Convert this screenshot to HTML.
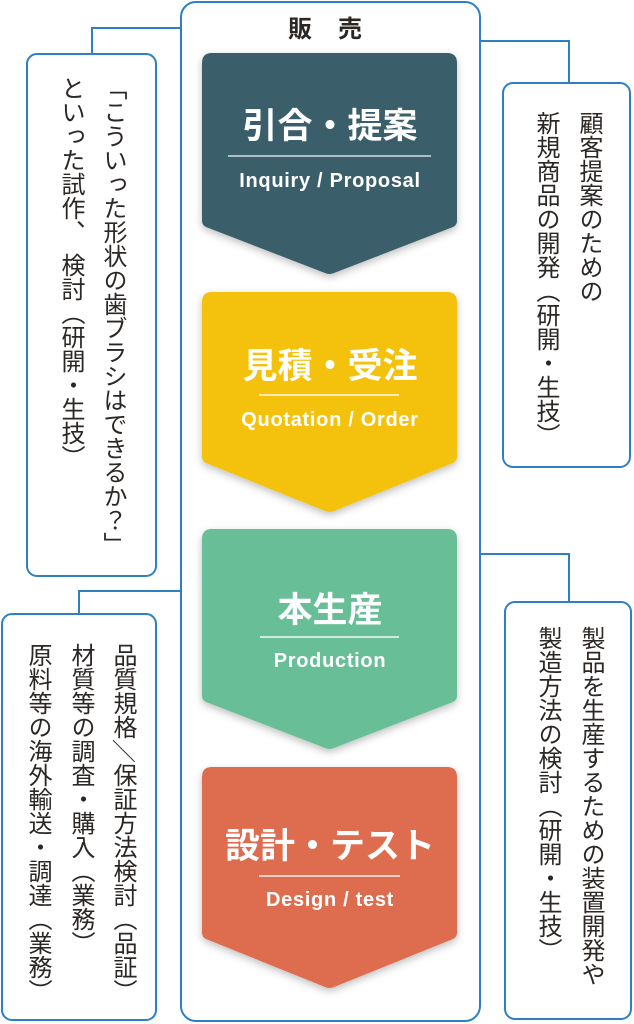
<!DOCTYPE html>
<html lang="ja">
<head>
<meta charset="utf-8">
<style>
  html,body{margin:0;padding:0;background:#fff;}
  body{width:634px;height:1024px;position:relative;overflow:hidden;}
  svg{position:absolute;left:0;top:0;}
  .v{position:absolute;writing-mode:vertical-rl;font-family:"Liberation Sans","Noto Sans CJK JP",sans-serif;font-size:24px;line-height:24px;width:24px;color:#2b2725;white-space:nowrap;}
  .t{font-family:"Liberation Sans","Noto Sans CJK JP",sans-serif;font-weight:700;fill:#fff;}
  .s{font-family:"Liberation Sans",sans-serif;font-weight:700;fill:#fff;font-size:20px;letter-spacing:0.7px;}
  .sw{text-orientation:sideways;}
</style>
</head>
<body>
<svg width="634" height="1024" viewBox="0 0 634 1024" xmlns="http://www.w3.org/2000/svg">
  <defs>
    <filter id="sh" x="-20%" y="-20%" width="140%" height="140%">
      <feDropShadow dx="0" dy="3" stdDeviation="4" flood-color="#000" flood-opacity="0.25"/>
    </filter>
  </defs>
  <g fill="none" stroke="#2f7fc3" stroke-width="2">
    <!-- main box -->
    <rect x="181" y="2" width="299" height="1019" rx="15"/>
    <!-- side boxes -->
    <rect x="27" y="54" width="129" height="522" rx="10"/>
    <rect x="503" y="83" width="127" height="384" rx="10"/>
    <rect x="2" y="614" width="154" height="406" rx="10"/>
    <rect x="505" y="602" width="126" height="417" rx="10"/>
    <!-- connectors -->
    <polyline points="181,28 92,28 92,54"/>
    <polyline points="480,41 569,41 569,83"/>
    <polyline points="181,591 79,591 79,614"/>
    <polyline points="480,554 569,554 569,602"/>
  </g>

  <!-- header -->
  <text x="300" y="37" text-anchor="middle" font-family="'Liberation Sans','Noto Sans CJK JP',sans-serif" font-size="24" font-weight="700" fill="#2b2725">販</text>
  <text x="350" y="37" text-anchor="middle" font-family="'Liberation Sans','Noto Sans CJK JP',sans-serif" font-size="24" font-weight="700" fill="#2b2725">売</text>

  <!-- chevrons -->
  <g filter="url(#sh)">
    <path fill="#3b5e6b" d="M202,63 Q202,53 212,53 H447 Q457,53 457,63 V221 Q457,225 453,227 L334,273 Q329.5,275 325,273 L206,227 Q202,225 202,221 Z"/>
    <path fill="#f4c210" d="M202,302 Q202,292 212,292 H447 Q457,292 457,302 V457 Q457,461 453,463 L334,511 Q329.5,513 325,511 L206,463 Q202,461 202,457 Z"/>
    <path fill="#67bf97" d="M202,539 Q202,529 212,529 H447 Q457,529 457,539 V696 Q457,700 453,702 L334,748 Q329.5,750 325,748 L206,702 Q202,700 202,696 Z"/>
    <path fill="#de6d4f" d="M202,777 Q202,767 212,767 H447 Q457,767 457,777 V933 Q457,937 453,939 L334,987 Q329.5,989 325,987 L206,939 Q202,937 202,933 Z"/>
  </g>

  <!-- chevron 1 -->
  <text class="t" x="330" y="138" text-anchor="middle" font-size="35">引合・提案</text>
  <line x1="228" y1="156" x2="431" y2="156" stroke="#fff" stroke-opacity="0.8" stroke-width="1.6"/>
  <text class="s" x="330" y="187" text-anchor="middle">Inquiry / Proposal</text>

  <!-- chevron 2 -->
  <text class="t" x="330" y="378" text-anchor="middle" font-size="35">見積・受注</text>
  <line x1="259" y1="395" x2="399" y2="395" stroke="#fff" stroke-opacity="0.9" stroke-width="1.6"/>
  <text class="s" x="330" y="426" text-anchor="middle">Quotation / Order</text>

  <!-- chevron 3 -->
  <text class="t" x="330" y="622" text-anchor="middle" font-size="35">本生産</text>
  <line x1="260" y1="637" x2="399" y2="637" stroke="#fff" stroke-opacity="0.9" stroke-width="1.6"/>
  <text class="s" x="330" y="667" text-anchor="middle">Production</text>

  <!-- chevron 4 -->
  <text class="t" x="330" y="858" text-anchor="middle" font-size="35">設計・テスト</text>
  <line x1="259" y1="876" x2="400" y2="876" stroke="#fff" stroke-opacity="0.9" stroke-width="1.6"/>
  <text class="s" x="330" y="906" text-anchor="middle">Design / test</text>
</svg>

<!-- upper-left box -->
<div class="v" style="left:100px;top:76px;">「こういった形状の歯ブラシはできるか？」</div>
<div class="v" style="left:58px;top:76px;">といった試作<span style="letter-spacing:9px">、</span>検討（研開・生技）</div>

<!-- upper-right box -->
<div class="v" style="left:576px;top:111px;">顧客提案のための</div>
<div class="v" style="left:533px;top:111px;">新規商品の開発（研開・生技）</div>

<!-- lower-left box -->
<div class="v" style="left:110px;top:643px;">品質規格<span class="sw">／</span>保証方法検討（品証）</div>
<div class="v" style="left:68px;top:643px;">材質等の調査・購入（業務）</div>
<div class="v" style="left:25px;top:643px;">原料等の海外輸送・調達（業務）</div>

<!-- lower-right box -->
<div class="v" style="left:578px;top:626px;">製品を生産するための装置開発や</div>
<div class="v" style="left:535px;top:626px;">製造方法の検討（研開・生技）</div>
</body>
</html>
